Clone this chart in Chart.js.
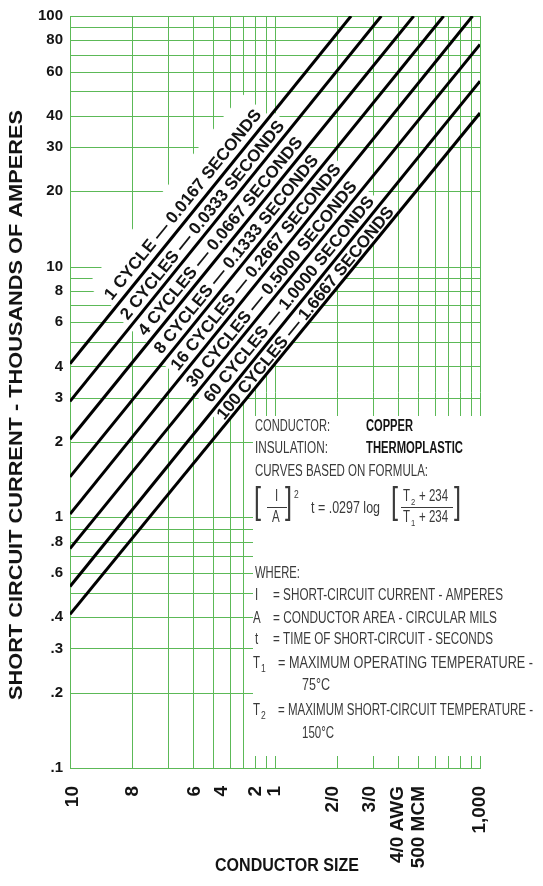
<!DOCTYPE html>
<html>
<head>
<meta charset="utf-8">
<script src="https://cdn.jsdelivr.net/npm/chart.js@4.4.1/dist/chart.umd.min.js"></script>
<style>
  html, body { margin: 0; padding: 0; background: #ffffff; }
  #wrap { width: 543px; height: 886px; }
</style>
</head>
<body>
<div id="wrap"><canvas id="chart" width="543" height="886"></canvas></div>
<script>
// ---- Curve data: conductor area (circular mils) vs short-circuit current (thousands of amperes) ----
const curveNames = [
  '1 CYCLE — 0.0167 SECONDS',
  '2 CYCLES — 0.0333 SECONDS',
  '4 CYCLES — 0.0667 SECONDS',
  '8 CYCLES — 0.1333 SECONDS',
  '16 CYCLES — 0.2667 SECONDS',
  '30 CYCLES — 0.5000 SECONDS',
  '60 CYCLES — 1.0000 SECONDS',
  '100 CYCLES — 1.6667 SECONDS'
];
const startArea    = [10000, 10000, 10000, 10000, 10000, 10000, 10000, 10000];
const startCurrent = [4.1, 2.9, 2.05, 1.45, 1.03, 0.75, 0.53, 0.41];
const endArea      = [235000, 330000, 475000, 665000, 920000, 1000000, 1000000, 1000000];
const endCurrent   = [100, 100, 100, 100, 100, 77, 55, 41];

// ---- Axis ticks ----
const sizeTickValues = [10300, 20300, 40700, 55000, 80700, 100000, 192000, 290000, 398000, 503000, 1000000];
const sizeTickLabels = ['10', '8', '6', '4', '2', '1', '2/0', '3/0', '4/0 AWG', '500 MCM', '1,000'];
const currentTickValues = [100, 80, 60, 40, 30, 20, 10, 8, 6, 4, 3, 2, 1, 0.8, 0.6, 0.4, 0.3, 0.2, 0.1];
const currentTickLabels = ['100', '80', '60', '40', '30', '20', '10', '8', '6', '4', '3', '2', '1', '.8', '.6', '.4', '.3', '.2', '.1'];

// ---- Log grid lines ----
const areaGrid = [10000, 20000, 30000, 40000, 50000, 60000, 70000, 80000, 90000,
                  100000, 200000, 300000, 400000, 500000, 600000, 700000, 800000, 900000, 1000000];
const currentGrid = [0.1, 0.2, 0.3, 0.4, 0.5, 0.6, 0.7, 0.8, 0.9,
                     1, 2, 3, 4, 5, 6, 7, 8, 9,
                     10, 20, 30, 40, 50, 60, 70, 80, 90, 100];

// ---- Layout / styling ----
const FONT = '"Liberation Sans", Arial, Helvetica, sans-serif';
const GRID_GREEN = '#5cb957';
const INK = '#141414';
const NOTE_INK = '#3a3a3a';
const CURVE_FONT_SIZE = 17;
// where each curve caption starts along its curve (circular mils)
const captionStart = [17000, 20100, 24600, 29400, 35400, 42000, 51300, 58200];
const TOP_BAND = 36;

function curveGeometry(chart, i) {
  const xs = chart.scales.x, ys = chart.scales.y;
  const ax = xs.getPixelForValue(startArea[i]), ay = ys.getPixelForValue(startCurrent[i]);
  const bx = xs.getPixelForValue(endArea[i]), by = ys.getPixelForValue(endCurrent[i]);
  const len = Math.hypot(bx - ax, by - ay);
  const ux = (bx - ax) / len, uy = (by - ay) / len;
  return { ax, ay, ux, uy, nx: uy, ny: -ux };
}

function captionLayout(chart, i) {
  const g = curveGeometry(chart, i);
  const sx = chart.scales.x.getPixelForValue(captionStart[i]);
  const t = (sx - g.ax) / g.ux;
  const px = g.ax + g.ux * t, py = g.ay + g.uy * t;
  let gap = TOP_BAND;
  if (i > 0) {
    const h = curveGeometry(chart, i - 1);
    gap = Math.abs((px - h.ax) * h.uy - (py - h.ay) * h.ux);
  }
  const capH = CURVE_FONT_SIZE * 0.716;
  const off = i === 0 ? 7 : Math.max(2, (gap - capH) / 2);
  return { g, px, py, gap, off };
}

const gridPlugin = {
  id: 'millGrid',
  beforeDatasetsDraw(chart) {
    const { ctx, chartArea: a, scales: { x: xs, y: ys } } = chart;
    ctx.save();
    ctx.strokeStyle = GRID_GREEN;
    ctx.lineWidth = 1;
    ctx.beginPath();
    areaGrid.forEach(v => {
      const px = Math.round(xs.getPixelForValue(v)) + 0.5;
      ctx.moveTo(px, a.top);
      ctx.lineTo(px, a.bottom + 1);
    });
    currentGrid.forEach(v => {
      const py = Math.round(ys.getPixelForValue(v)) + 0.5;
      ctx.moveTo(a.left, py);
      ctx.lineTo(a.right + 1, py);
    });
    ctx.stroke();

    // clear the grid behind each curve caption
    ctx.save();
    ctx.beginPath();
    ctx.rect(a.left + 1.5, a.top + 1.5, a.right - a.left - 3, a.bottom - a.top - 3);
    ctx.clip();
    ctx.fillStyle = '#ffffff';
    ctx.font = `bold ${CURVE_FONT_SIZE}px ${FONT}`;
    curveNames.forEach((name, i) => {
      const L = captionLayout(chart, i);
      const w = ctx.measureText(name).width;
      const s0 = -4, s1 = w + 4, h0 = 0, h1 = L.gap;
      const { ux, uy, nx, ny } = L.g;
      ctx.beginPath();
      ctx.moveTo(L.px + ux * s0 + nx * h0, L.py + uy * s0 + ny * h0);
      ctx.lineTo(L.px + ux * s1 + nx * h0, L.py + uy * s1 + ny * h0);
      ctx.lineTo(L.px + ux * s1 + nx * h1, L.py + uy * s1 + ny * h1);
      ctx.lineTo(L.px + ux * s0 + nx * h1, L.py + uy * s0 + ny * h1);
      ctx.closePath();
      ctx.fill();
    });
    ctx.restore();

    // legend panel
    ctx.fillStyle = '#ffffff';
    ctx.fillRect(253, 416, 290, 340);
    ctx.restore();
  }
};

function fitText(ctx, str, x, y, opts) {
  const o = opts || {};
  ctx.save();
  ctx.font = `${o.bold ? 'bold ' : ''}${o.size || 16}px ${FONT}`;
  ctx.fillStyle = o.color || (o.bold ? INK : NOTE_INK);
  ctx.textAlign = 'left';
  ctx.textBaseline = 'alphabetic';
  const w = ctx.measureText(str).width;
  const k = o.w ? o.w / w : (o.k || 0.72);
  ctx.translate(x, y);
  ctx.scale(k, 1);
  ctx.fillText(str, 0, 0);
  ctx.restore();
}

const noteRows = [
  { t: 'CONDUCTOR:', x: 255, y: 431, w: 75 },
  { t: 'COPPER', x: 366, y: 431, w: 47, bold: true },
  { t: 'INSULATION:', x: 255, y: 453, w: 73 },
  { t: 'THERMOPLASTIC', x: 366, y: 453, w: 97, bold: true },
  { t: 'CURVES BASED ON FORMULA:', x: 255, y: 476, w: 173 },
  { t: '[', x: 254, y: 513, size: 36, k: 0.7 },
  { t: 'I', x: 275, y: 501 },
  { t: 'A', x: 272, y: 522 },
  { t: ']', x: 285, y: 513, size: 36, k: 0.7 },
  { t: '2', x: 294, y: 498, size: 10, k: 0.85 },
  { t: 't = .0297 log', x: 311, y: 513, w: 69 },
  { t: '[', x: 391, y: 513, size: 36, k: 0.7 },
  { t: 'T', x: 403, y: 501 },
  { t: '2', x: 411, y: 505, size: 9, k: 0.85 },
  { t: '+ 234', x: 419, y: 501, w: 29 },
  { t: 'T', x: 403, y: 522 },
  { t: '1', x: 411, y: 526, size: 9, k: 0.85 },
  { t: '+ 234', x: 419, y: 522, w: 29 },
  { t: ']', x: 454, y: 513, size: 36, k: 0.7 },
  { t: 'WHERE:', x: 255, y: 578, w: 45 },
  { t: 'I', x: 255, y: 600 },
  { t: '= SHORT-CIRCUIT CURRENT - AMPERES', x: 273, y: 600, w: 230 },
  { t: 'A', x: 253, y: 623 },
  { t: '= CONDUCTOR AREA - CIRCULAR MILS', x: 273, y: 623, w: 224 },
  { t: 't', x: 255, y: 644 },
  { t: '= TIME OF SHORT-CIRCUIT - SECONDS', x: 273, y: 644, w: 220 },
  { t: 'T', x: 253, y: 668 },
  { t: '1', x: 261, y: 672, size: 10, k: 0.85 },
  { t: '= MAXIMUM OPERATING TEMPERATURE -', x: 278, y: 668, w: 255 },
  { t: '75°C', x: 302, y: 690, w: 28 },
  { t: 'T', x: 253, y: 715 },
  { t: '2', x: 261, y: 719, size: 10, k: 0.85 },
  { t: '= MAXIMUM SHORT-CIRCUIT TEMPERATURE -', x: 278, y: 715, w: 255 },
  { t: '150°C', x: 302, y: 738, w: 32 }
];
const fractionBars = [[267, 287], [401, 453]];

const textPlugin = {
  id: 'chartText',
  afterDatasetsDraw(chart) {
    const { ctx } = chart;
    // curve captions
    ctx.save();
    ctx.font = `bold ${CURVE_FONT_SIZE}px ${FONT}`;
    ctx.fillStyle = INK;
    ctx.textAlign = 'left';
    ctx.textBaseline = 'alphabetic';
    curveNames.forEach((name, i) => {
      const L = captionLayout(chart, i);
      ctx.save();
      ctx.translate(L.px + L.g.nx * L.off, L.py + L.g.ny * L.off);
      ctx.rotate(Math.atan2(L.g.uy, L.g.ux));
      ctx.fillText(name, 0, 0);
      ctx.restore();
    });
    ctx.restore();

    // notes panel
    noteRows.forEach(r => fitText(ctx, r.t, r.x, r.y, r));
    ctx.save();
    ctx.strokeStyle = NOTE_INK;
    ctx.lineWidth = 1;
    ctx.beginPath();
    fractionBars.forEach(([x0, x1]) => { ctx.moveTo(x0, 507.5); ctx.lineTo(x1, 507.5); });
    ctx.stroke();
    ctx.restore();

    // axis titles
    ctx.save();
    ctx.fillStyle = INK;
    ctx.font = `bold 18px ${FONT}`;
    ctx.textAlign = 'center';
    ctx.textBaseline = 'middle';
    const yTitle = 'SHORT CIRCUIT CURRENT - THOUSANDS OF AMPERES';
    const yw = ctx.measureText(yTitle).width;
    ctx.translate(17, 405);
    ctx.rotate(-Math.PI / 2);
    ctx.scale(590 / yw, 1);
    ctx.fillText(yTitle, 0, 0);
    ctx.restore();

    ctx.save();
    ctx.fillStyle = INK;
    ctx.font = `bold 18px ${FONT}`;
    ctx.textAlign = 'center';
    ctx.textBaseline = 'alphabetic';
    const xTitle = 'CONDUCTOR SIZE';
    const xw = ctx.measureText(xTitle).width;
    ctx.translate(287, 871);
    ctx.scale(144 / xw, 1);
    ctx.fillText(xTitle, 0, 0);
    ctx.restore();
  }
};

const datasets = curveNames.map((name, i) => ({
  label: name,
  data: [{ x: startArea[i], y: startCurrent[i] }, { x: endArea[i], y: endCurrent[i] }],
  borderColor: '#000000',
  borderWidth: 3,
  pointRadius: 0,
  fill: false,
  tension: 0
}));

new Chart(document.getElementById('chart').getContext('2d'), {
  type: 'line',
  data: { datasets },
  options: {
    responsive: false,
    animation: false,
    devicePixelRatio: 1,
    layout: { padding: { top: 12, right: 63, bottom: 0, left: 0 } },
    plugins: { legend: { display: false }, tooltip: { enabled: false } },
    scales: {
      x: {
        type: 'logarithmic',
        position: 'bottom',
        min: 10000,
        max: 1000000,
        grid: { display: false, drawTicks: false },
        border: { display: false },
        afterBuildTicks: s => { s.ticks = sizeTickValues.map(v => ({ value: v })); },
        afterFit: s => { s.height = 118; },
        ticks: {
          autoSkip: false,
          minRotation: 90,
          maxRotation: 90,
          padding: 18,
          color: INK,
          font: { family: FONT, weight: 'bold', size: 19 },
          callback: (v, idx) => sizeTickLabels[idx]
        }
      },
      y: {
        type: 'logarithmic',
        position: 'left',
        min: 0.1,
        max: 100,
        grid: { display: false, drawTicks: false },
        border: { display: false },
        afterBuildTicks: s => { s.ticks = currentTickValues.map(v => ({ value: v })); },
        afterFit: s => { s.width = 70; },
        ticks: {
          autoSkip: false,
          padding: 7,
          color: INK,
          font: { family: FONT, weight: 'bold', size: 15 },
          callback: (v, idx) => currentTickLabels[idx]
        }
      }
    }
  },
  plugins: [gridPlugin, textPlugin]
});
</script>
</body>
</html>
